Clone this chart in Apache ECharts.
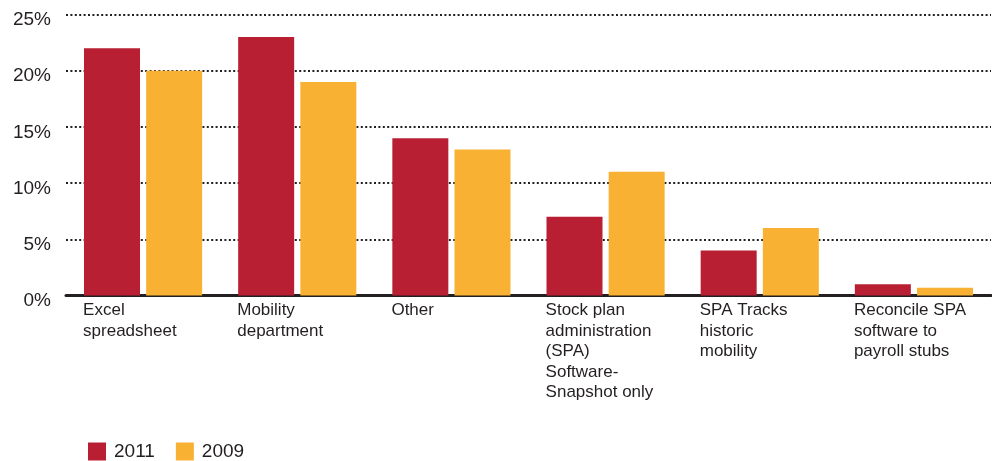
<!DOCTYPE html>
<html>
<head>
<meta charset="utf-8">
<script src="https://cdn.jsdelivr.net/npm/echarts@6/dist/echarts.min.js"></script>
<style>
  html, body { margin: 0; padding: 0; background: #fff; }
  #chart { width: 992px; height: 461px; }
</style>
</head>
<body>
<div id="chart"></div>
<script>
var categories = [
  'Excel\nspreadsheet',
  'Mobility\ndepartment',
  'Other',
  'Stock plan\nadministration\n(SPA)\nSoftware-\nSnapshot only',
  'SPA Tracks\nhistoric\nmobility',
  'Reconcile SPA\nsoftware to\npayroll stubs'
];
var values2011 = [22, 23, 14, 7, 4, 1];
var values2009 = [20, 19, 13, 11, 6, 0.7];
var yTicks = [0, 5, 10, 15, 20, 25];

var chart = echarts.init(document.getElementById('chart'));
var option = {
  animation: false,
  textStyle: { fontFamily: '"Liberation Sans", Arial, sans-serif' },
  grid: { left: 66, right: 1, top: 14.5, bottom: 165.5 },
  legend: {
    left: 88, top: 442, padding: 0,
    itemWidth: 18, itemHeight: 18, itemGap: 21,
    icon: 'rect',
    textStyle: { fontSize: 19, color: '#231f20', padding: [0, 0, 0, 3] },
    data: ['2011', '2009']
  },
  xAxis: {
    type: 'category',
    data: categories,
    axisTick: { show: false },
    axisLine: { lineStyle: { color: '#231f20', width: 3 } },
    axisLabel: {
      interval: 0,
      hideOverlap: false,
      align: 'left',
      verticalAlign: 'top',
      margin: 5,
      padding: [0, 0, 0, -60],
      fontSize: 17,
      lineHeight: 20.5,
      color: '#231f20'
    }
  },
  yAxis: {
    type: 'value',
    min: yTicks[0],
    max: yTicks[yTicks.length - 1],
    interval: 5,
    axisLine: { show: false },
    axisTick: { show: false },
    splitLine: { lineStyle: { color: '#231f20', width: 2, type: [2, 2.4] } },
    axisLabel: {
      formatter: '{value}%',
      fontSize: 19,
      margin: 15,
      color: '#231f20',
      verticalAlign: 'top',
      padding: [-4, 0, 0, 0]
    }
  },
  series: [
    {
      name: '2011', type: 'bar', data: values2011,
      barWidth: 56, barGap: '11%',
      itemStyle: { color: '#b81f33' }
    },
    {
      name: '2009', type: 'bar', data: values2009,
      barWidth: 56,
      itemStyle: { color: '#f9b133' }
    }
  ]
};
chart.setOption(option);
</script>
</body>
</html>
